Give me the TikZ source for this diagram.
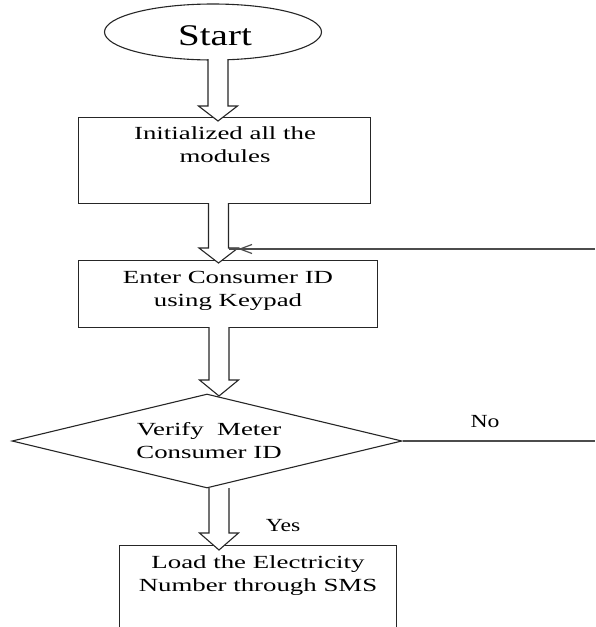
\documentclass[tikz,border=0pt]{standalone}
\usepackage{fontspec}
\setmainfont{Liberation Serif}[FakeStretch=1.45]
\newfontfamily\startfont{Liberation Serif}[FakeStretch=1.3]
\newfontfamily\lblfont{Liberation Serif}[FakeStretch=1.28]
\usetikzlibrary{shapes.geometric}
\newcommand\harrow[4]{%
  \draw[hol] (#1-10,-#2) -- (#1-10,-#3) -- (#1-19.5,-#3) -- (#1,-#4)
    -- (#1+19.5,-#3) -- (#1+10,-#3) -- (#1+10,-#2);}
\begin{document}
\begin{tikzpicture}[x=1pt,y=1pt,
  shp/.style={draw=black!85, line width=1.1pt, inner sep=0pt},
  conn/.style={draw=black!70, line width=1.2pt},
  hol/.style={draw=black!85, line width=1.1pt, fill=white},
  txt/.style={inner sep=0pt, align=center, anchor=base,
    font=\fontsize{18.5}{22.5}\selectfont},
  lbl/.style={inner sep=0pt, anchor=base, font=\lblfont\fontsize{18.5}{22}\selectfont}]
\useasboundingbox (0,0) rectangle (595,-627);
\clip (0,0) rectangle (595,-627);
% shapes
\node[shp, ellipse, minimum width=217, minimum height=56] (start) at (213,-32) {};
\node[inner sep=0pt, anchor=base, font=\startfont\fontsize{30}{36}\selectfont] (starttxt) at (215,-45) {Start};
\node[shp, rectangle, minimum width=292, minimum height=86, anchor=north west] (init) at (78,-117) {};
\node[txt] (inittxt) at (225,-162) {Initialized all the\\modules};
\node[shp, rectangle, minimum width=299, minimum height=67, anchor=north west] (enter) at (78,-260) {};
\node[txt] (entertxt) at (228,-306) {Enter Consumer ID\\using Keypad};
\node[shp, diamond, minimum width=390, minimum height=94] (verify) at (207,-441) {};
\node[txt] (verifytxt) at (209,-458) {Verify\ \ Meter\\Consumer ID};
\node[shp, rectangle, minimum width=277, minimum height=120, anchor=north west] (load) at (119,-545) {};
\node[txt] (loadtxt) at (258,-591) {Load the Electricity\\Number through SMS};
% hollow arrows
\harrow{218}{59}{106}{121}
\harrow{218.5}{203}{248}{263}
\harrow{219}{327}{380}{396}
\harrow{219}{488}{533}{550}
% feedback (No) connector
\coordinate (fbR) at (595,-441);
\coordinate (fbT) at (595,-249);
\draw[conn] (verify.east) -- (fbR);
\draw[conn] (fbT) -- (228.5,-249);
\draw[conn] (252,-244.5) -- (240,-249) -- (252,-253.5);
% labels
\node[lbl] (no) at (485,-427) {No};
\node[lbl] (yes) at (283,-531) {Yes};
\end{tikzpicture}
\end{document}
